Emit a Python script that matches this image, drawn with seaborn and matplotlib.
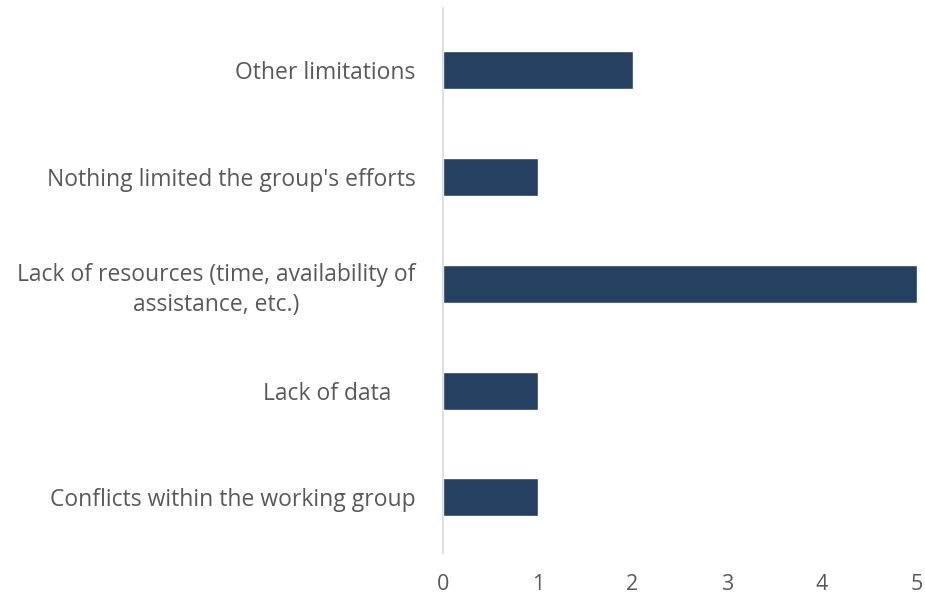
import matplotlib
matplotlib.use("Agg")
import matplotlib.pyplot as plt
import seaborn as sns
import pandas as pd

categories = ["Other limitations",
              "Nothing limited the group's efforts",
              "Lack of resources (time, availability of\nassistance, etc.)",
              "Lack of data    ",
              "Conflicts within the working group"]
counts = [2, 1, 5, 1, 1]
x_ticks = [0, 1, 2, 3, 4, 5]

sns.set_style("white")
plt.rcParams['font.family'] = ['Open Sans', 'DejaVu Sans']

df = pd.DataFrame({"limitation": categories, "count": counts})

fig = plt.figure(figsize=(9.25, 5.95), dpi=100)
ax = fig.add_axes([0.479, 0.0706, 0.512, 0.916])
sns.barplot(data=df, y="limitation", x="count", color="#264061",
            width=0.355, saturation=1, ax=ax, orient="h")

ax.set_xlim(0, 5)
ax.set_ylim(4.52, -0.58)
ax.set_xticks(x_ticks)
ax.set_xlabel("")
ax.set_ylabel("")
for s in ["top", "right", "bottom"]:
    ax.spines[s].set_visible(False)
ax.spines["left"].set_color("#D9D9D9")
ax.spines["left"].set_linewidth(1.2)
ax.tick_params(axis="both", length=0, labelsize=16.5, colors="#595959")
ax.tick_params(axis="x", labelsize=15.5, pad=15)
ax.tick_params(axis="y", pad=20)
for lab in ax.get_yticklabels():
    lab.set_multialignment("center")
    lab.set_linespacing(1.35)

fig.savefig("out.png", dpi=100)
